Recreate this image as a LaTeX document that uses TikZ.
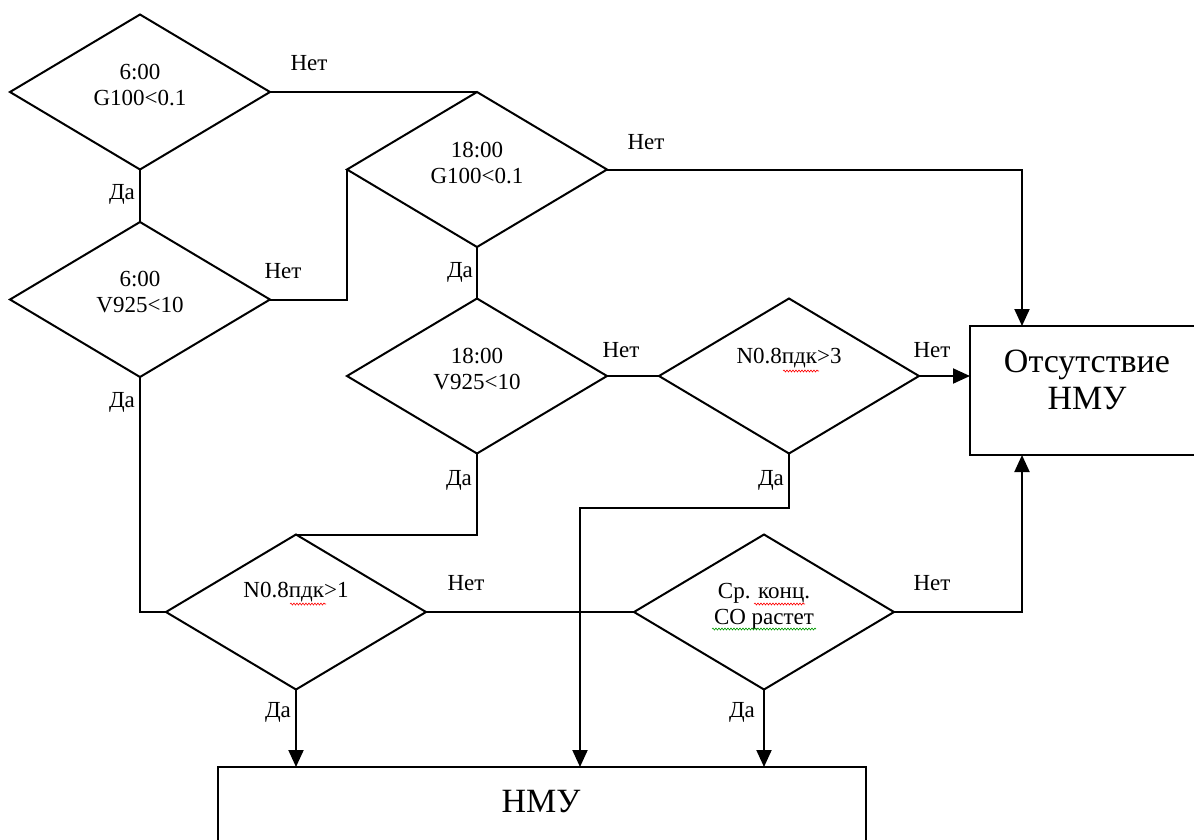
\documentclass[tikz,border=0pt]{standalone}
\usepackage{fontspec}
\setmainfont{Liberation Serif}
\newfontfamily\tnr{Liberation Serif}
\usetikzlibrary{shapes.geometric,arrows.meta,decorations.pathmorphing}
\begin{document}
\begin{tikzpicture}[x=1pt,y=-1pt,line width=2pt,
  dia/.style={draw,diamond,minimum width=260pt,minimum height=155pt,inner sep=0pt,outer sep=0pt},
  dtxt/.style={align=center,font=\tnr\fontsize{23}{26}\selectfont,inner sep=0pt},
  lbl/.style={font=\tnr\fontsize{23}{26}\selectfont,inner sep=0pt},
  btxt/.style={align=center,font=\tnr\fontsize{34}{37}\selectfont,inner sep=0pt},
  boxx/.style={draw,anchor=north west,inner sep=0pt,outer sep=0pt},
  arr/.style={-{Triangle[length=17pt,width=15pt]}},
  sq/.style={line width=0.6pt,decorate,decoration={snake,amplitude=1pt,segment length=3pt}}]
\useasboundingbox (0,0) rectangle (1194,839);
\clip (0,0) rectangle (1194,839);
% diamonds
\node[dia] (D1) at (140,92) {};
\node[dia] (D2) at (477,169.5) {};
\node[dia] (D3) at (140,299.5) {};
\node[dia] (D4) at (477,376) {};
\node[dia] (D5) at (789,376) {};
\node[dia] (D6) at (296,612) {};
\node[dia] (D7) at (764,612) {};
% diamond texts
\node[dtxt] (T1) at (140,85) {6:00\\G100<0.1};
\node[dtxt] (T2) at (477,163) {18:00\\G100<0.1};
\node[dtxt] (T3) at (140,292) {6:00\\V925<10};
\node[dtxt] (T4) at (477,369) {18:00\\V925<10};
\node[dtxt] (T5) at (789,358) {N0.8пдк>3};
\node[dtxt] (T6) at (296,592) {N0.8пдк>1};
\node[dtxt] (T7) at (764,606) {Ср. конц.\\СО растет};
% spell-check squiggles
\draw[sq,red] (783,371) -- (819,371);
\draw[sq,red] (290,604) -- (326,604);
\draw[sq,red] (754,604) -- (805,604);
\draw[sq,green!60!black] (712,629) -- (816,629);
% boxes
\node[boxx,minimum width=648pt,minimum height=140pt] (NMU) at (218,767) {};
\node[btxt] (NMUt) at (541,802) {НМУ};
\node[boxx,minimum width=236pt,minimum height=129pt] (OTS) at (970,326) {};
\node[btxt] (OTSt) at (1087,380) {Отсутствие\\НМУ};
% helper coordinates
\coordinate (OTtop) at (1022,326);
\coordinate (OTbot) at (1022,455);
\coordinate (Nmid) at (580,767);
\coordinate (K) at (789,508);
% connectors
\draw (D1.east) -| (D2.north);
\draw (D1.south) -- (D3.north);
\draw (D3.east) -| (D2.west);
\draw (D2.south) -- (D4.north);
\draw[arr] (D2.east) -| (OTtop);
\draw (D4.east) -- (D5.west);
\draw[arr] (D5.east) -- (D5.east -| OTS.west);
\draw[arr] (D5.south) -- (K) -| (Nmid);
\draw (D4.south) |- (D6.north);
\draw (D3.south) |- (D6.west);
\draw (D6.east) -- (D7.west);
\draw[arr] (D6.south) -- (D6.south |- NMU.north);
\draw[arr] (D7.south) -- (D7.south |- NMU.north);
\draw[arr] (D7.east) -| (OTbot);
% labels
\node[lbl] (L1) at (309,63) {Нет};
\node[lbl] (L2) at (122,194) {Да};
\node[lbl] (L3) at (283,271) {Нет};
\node[lbl] (L4) at (646,142) {Нет};
\node[lbl] (L5) at (460,272) {Да};
\node[lbl] (L6) at (621,350) {Нет};
\node[lbl] (L7) at (932,350) {Нет};
\node[lbl] (L8) at (122,402) {Да};
\node[lbl] (L9) at (459,480) {Да};
\node[lbl] (L10) at (771,480) {Да};
\node[lbl] (L11) at (466,583) {Нет};
\node[lbl] (L12) at (932,583) {Нет};
\node[lbl] (L13) at (278,712) {Да};
\node[lbl] (L14) at (742,712) {Да};
\end{tikzpicture}
\end{document}
